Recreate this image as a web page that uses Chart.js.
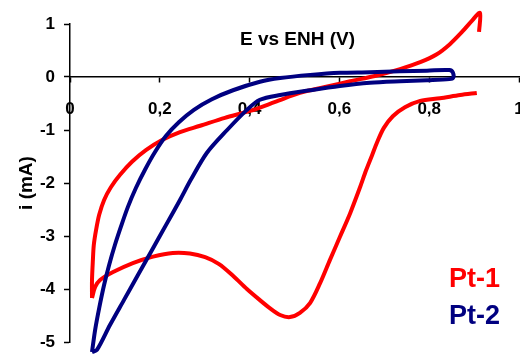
<!DOCTYPE html>
<html>
<head>
<meta charset="utf-8">
<script src="https://cdn.jsdelivr.net/npm/chart.js@4.4.1/dist/chart.umd.min.js"></script>
<style>
  html, body { margin: 0; padding: 0; background: #fff; overflow: hidden; }
  canvas { display: block; }
</style>
</head>
<body>
<canvas id="cvChart" width="520" height="354"></canvas>
<script>
const xTickLabels = ['0', '0,2', '0,4', '0,6', '0,8', '1'];
const yTickLabels = ['-5', '-4', '-3', '-2', '-1', '0', '1'];
const seriesNames = ['Pt-1', 'Pt-2'];
const xTitle = 'E vs ENH (V)';
const yTitle = 'i (mA)';

// Pt-1: forward sweep, a break, then the return sweep
const pt1E = [0.049, 0.049, 0.051, 0.053, 0.058, 0.065, 0.076, 0.091, 0.111, 0.138, 0.169, 0.205, 0.245, 0.290,
  0.345, 0.401, 0.457, 0.512, 0.568, 0.624, 0.679, 0.735, 0.780, 0.817, 0.846, 0.873, 0.895, 0.913, 0.911,
  0.910,
  0.906, 0.869, 0.824, 0.780, 0.746, 0.719, 0.699, 0.684, 0.673, 0.659, 0.646, 0.624, 0.601, 0.579, 0.557,
  0.535, 0.512, 0.490, 0.468, 0.445, 0.423, 0.394, 0.363, 0.332, 0.301, 0.267, 0.229, 0.185, 0.140, 0.096,
  0.067, 0.056, 0.049];
const pt1I = [-4.17, -3.83, -3.45, -3.17, -2.89, -2.60, -2.32, -2.08, -1.85, -1.60, -1.38, -1.19, -1.04, -0.92,
  -0.77, -0.64, -0.47, -0.30, -0.19, -0.08, 0.02, 0.15, 0.28, 0.43, 0.62, 0.85, 1.06, 1.21, 0.85,
  null,
  -0.30, -0.34, -0.40, -0.45, -0.57, -0.74, -0.96, -1.23, -1.47, -1.77, -2.08, -2.57, -3.02, -3.45, -3.89,
  -4.26, -4.45, -4.53, -4.49, -4.36, -4.21, -4.00, -3.75, -3.53, -3.40, -3.33, -3.32, -3.39, -3.51, -3.68,
  -3.83, -3.96, -4.17];

// Pt-2: closed loop
const pt2E = [0.049, 0.056, 0.065, 0.076, 0.087, 0.100, 0.114, 0.129, 0.147, 0.167, 0.189, 0.214, 0.243, 0.276,
  0.316, 0.363, 0.423, 0.468, 0.535, 0.601, 0.668, 0.735, 0.795, 0.845, 0.853, 0.853,
  0.845, 0.795, 0.735, 0.668, 0.601, 0.535, 0.468, 0.423, 0.394, 0.350, 0.305, 0.269, 0.245, 0.214,
  0.183, 0.151, 0.120, 0.089, 0.060, 0.049];
const pt2I = [-5.19, -4.77, -4.36, -3.92, -3.55, -3.17, -2.81, -2.45, -2.09, -1.75, -1.42, -1.11, -0.85, -0.62,
  -0.42, -0.25, -0.09, -0.02, 0.04, 0.08, 0.09, 0.11, 0.12, 0.13, 0.08, -0.02,
  -0.04, -0.06, -0.08, -0.11, -0.17, -0.25, -0.34, -0.43, -0.62, -1.00, -1.43, -1.94, -2.32, -2.79,
  -3.26, -3.74, -4.21, -4.68, -5.15, -5.19];

const FONT = '"Liberation Sans", Arial, sans-serif';

const toPoints = (xs, ys) => xs.map((x, i) => ({ x: x, y: ys[i] }));

// axis title above the x axis + coloured series names bottom right
const overlayText = {
    id: 'overlayText',
    afterDraw(chart) {
        const { ctx, chartArea } = chart;
        ctx.save();
        ctx.fillStyle = '#000';
        ctx.font = 'bold 19px ' + FONT;
        ctx.textAlign = 'center';
        ctx.textBaseline = 'middle';
        ctx.fillText(xTitle, (chartArea.left + chartArea.right) / 2 + 3, chartArea.top + 16);

        ctx.font = 'bold 27px ' + FONT;
        ctx.textAlign = 'left';
        chart.data.datasets.forEach((ds, i) => {
            ctx.fillStyle = ds.borderColor;
            ctx.fillText(ds.label, 449, 280 + i * 37);
        });
        ctx.restore();
    }
};

new Chart(document.getElementById('cvChart'), {
    type: 'scatter',
    data: {
        datasets: [
            {
                label: seriesNames[0],
                data: toPoints(pt1E, pt1I),
                borderColor: '#ff0000',
                borderWidth: 4,
                order: 1
            },
            {
                label: seriesNames[1],
                data: toPoints(pt2E, pt2I),
                borderColor: '#000080',
                borderWidth: 4,
                order: 0
            }
        ]
    },
    options: {
        responsive: false,
        animation: false,
        layout: { padding: { top: 24, right: 1, bottom: 12, left: 0 } },
        elements: {
            point: { radius: 0 },
            line: { tension: 0.3, fill: false }
        },
        datasets: { scatter: { showLine: true, clip: false, spanGaps: false } },
        plugins: {
            legend: { display: false },
            tooltip: { enabled: false }
        },
        scales: {
            x: {
                type: 'linear',
                position: { y: 0 },
                min: 0,
                max: 1,
                afterFit: s => { s.height = 0; s.paddingLeft = 0; s.paddingRight = 0; },
                border: { color: '#000', width: 1.5 },
                grid: { drawOnChartArea: false, drawTicks: true, tickLength: 5, tickColor: '#000', tickWidth: 1.5 },
                ticks: {
                    stepSize: 0.2,
                    padding: 17,
                    color: '#000',
                    maxRotation: 0,
                    font: { family: FONT, size: 17, weight: 'bold' },
                    callback: (v, i) => xTickLabels[i]
                }
            },
            y: {
                type: 'linear',
                min: -5,
                max: 1,
                afterFit: s => { s.width = 70; s.paddingTop = 0; s.paddingBottom = 0; },
                border: { color: '#000', width: 1.5 },
                grid: { drawOnChartArea: false, drawTicks: true, tickLength: 6, tickColor: '#000', tickWidth: 1.5 },
                ticks: {
                    stepSize: 1,
                    padding: 9,
                    color: '#000',
                    font: { family: FONT, size: 17, weight: 'bold' },
                    callback: (v, i) => yTickLabels[i]
                },
                title: {
                    display: true,
                    text: yTitle,
                    color: '#000',
                    padding: { top: 15, bottom: 0 },
                    font: { family: FONT, size: 19, weight: 'bold' }
                }
            }
        }
    },
    plugins: [overlayText]
});
</script>
</body>
</html>
